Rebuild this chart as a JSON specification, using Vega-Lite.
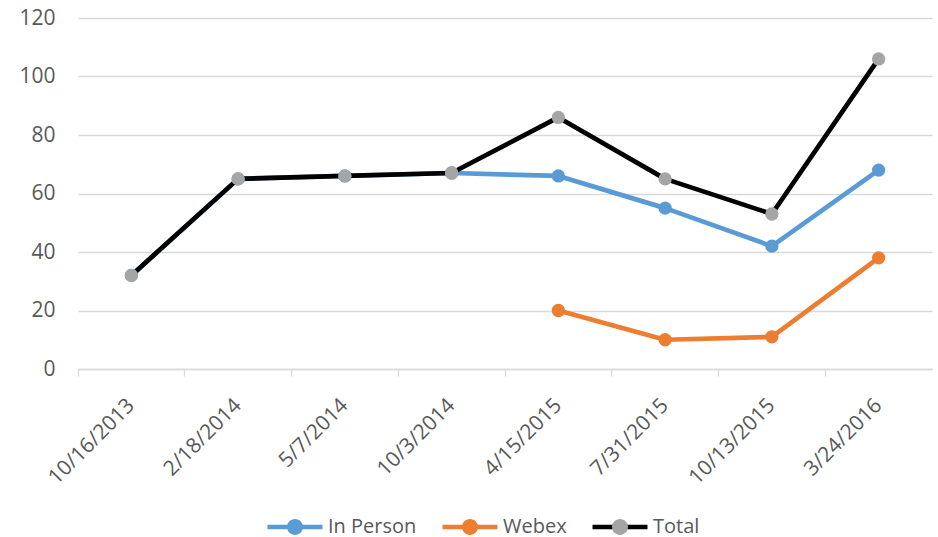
{
  "$schema": "https://vega.github.io/schema/vega-lite/v6.json",
  "width": 854,
  "height": 351,
  "autosize": {"type": "none"},
  "padding": {"left": 78, "top": 18, "right": 6, "bottom": 168},
  "background": "white",
  "config": {"view": {"stroke": null}, "font": "Open Sans"},
  "data": {
    "values": [
      {"date": "10/16/2013", "series": "In Person", "value": 32},
      {"date": "2/18/2014", "series": "In Person", "value": 65},
      {"date": "5/7/2014", "series": "In Person", "value": 66},
      {"date": "10/3/2014", "series": "In Person", "value": 67},
      {"date": "4/15/2015", "series": "In Person", "value": 66},
      {"date": "7/31/2015", "series": "In Person", "value": 55},
      {"date": "10/13/2015", "series": "In Person", "value": 42},
      {"date": "3/24/2016", "series": "In Person", "value": 68},
      {"date": "4/15/2015", "series": "Webex", "value": 20},
      {"date": "7/31/2015", "series": "Webex", "value": 10},
      {"date": "10/13/2015", "series": "Webex", "value": 11},
      {"date": "3/24/2016", "series": "Webex", "value": 38},
      {"date": "10/16/2013", "series": "Total", "value": 32},
      {"date": "2/18/2014", "series": "Total", "value": 65},
      {"date": "5/7/2014", "series": "Total", "value": 66},
      {"date": "10/3/2014", "series": "Total", "value": 67},
      {"date": "4/15/2015", "series": "Total", "value": 86},
      {"date": "7/31/2015", "series": "Total", "value": 65},
      {"date": "10/13/2015", "series": "Total", "value": 53},
      {"date": "3/24/2016", "series": "Total", "value": 106}
    ]
  },
  "encoding": {
    "x": {
      "field": "date",
      "type": "ordinal",
      "sort": null,
      "bandPosition": 0.5,
      "scale": {"type": "band", "paddingInner": 0, "paddingOuter": 0},
      "axis": {
        "title": null,
        "grid": false,
        "bandPosition": 0,
        "labelAngle": -45,
        "labelAlign": "right",
        "labelBaseline": "middle",
        "labelPadding": 26,
        "labelFont": "Open Sans",
        "labelFontSize": 21,
        "labelColor": "#595959",
        "domainColor": "#d9d9d9",
        "domainWidth": 1.3,
        "tickColor": "#d9d9d9",
        "tickWidth": 1.3,
        "tickSize": 7
      }
    },
    "y": {
      "field": "value",
      "type": "quantitative",
      "scale": {"domain": [0, 120], "nice": false, "zero": true},
      "axis": {
        "title": null,
        "values": [0, 20, 40, 60, 80, 100, 120],
        "domain": false,
        "ticks": false,
        "gridColor": "#d9d9d9",
        "gridWidth": 1.3,
        "labelFont": "Open Sans",
        "labelFontSize": 21,
        "labelColor": "#595959",
        "labelPadding": 23,
        "labelBaseline": "middle"
      }
    }
  },
  "layer": [
    {
      "mark": {"type": "line", "strokeWidth": 4.7, "strokeJoin": "round"},
      "encoding": {
        "stroke": {
          "field": "series",
          "type": "nominal",
          "scale": {"domain": ["In Person", "Webex", "Total"], "range": ["#5B9BD5", "#ED7D31", "#000000"]},
          "legend": {
            "orient": "none",
            "legendX": 187,
            "legendY": 479,
            "direction": "horizontal",
            "title": null,
            "padding": 0,
            "symbolType": "M-1,0L1,0",
            "symbolSize": 3025,
            "symbolStrokeWidth": 4.5,
            "labelFont": "Open Sans",
            "labelFontSize": 20,
            "labelColor": "#595959",
            "labelOffset": 3,
            "columnPadding": 16,
            "zindex": 0
          }
        }
      }
    },
    {
      "mark": {"type": "circle", "size": 177, "opacity": 1},
      "encoding": {
        "fill": {
          "field": "series",
          "type": "nominal",
          "scale": {"domain": ["In Person", "Webex", "Total", "~"], "range": ["#5B9BD5", "#ED7D31", "#A5A5A5", "#ffffff"]},
          "legend": {
            "orient": "none",
            "legendX": 187,
            "legendY": 479,
            "direction": "horizontal",
            "title": null,
            "padding": 0,
            "values": ["In Person", "Webex", "Total"],
            "symbolType": "M-1,0L1,0M-0.29,0A0.29,0.29 0 1,0 0.29,0A0.29,0.29 0 1,0 -0.29,0Z",
            "symbolSize": 3025,
            "symbolStrokeWidth": 4.5,
            "symbolStrokeColor": "transparent",
            "symbolOpacity": 1,
            "labelFont": "Open Sans",
            "labelFontSize": 20,
            "labelColor": "#595959",
            "labelOpacity": 0,
            "labelOffset": 3,
            "columnPadding": 16,
            "zindex": 1
          }
        }
      }
    }
  ]
}
